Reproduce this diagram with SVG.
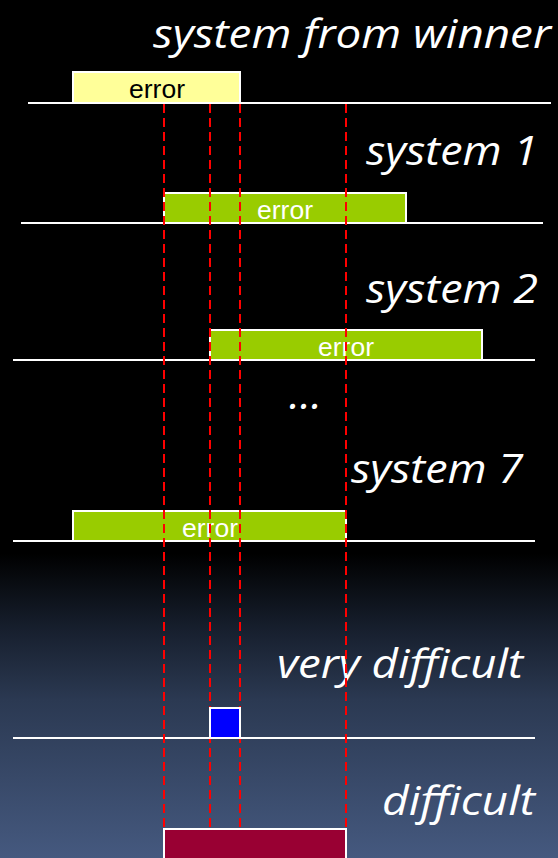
<svg xmlns="http://www.w3.org/2000/svg" width="558" height="858" viewBox="0 0 558 858">
  <style>
    .title { font-family: "Open Sans", "Liberation Sans", sans-serif; font-style: italic; font-size: 40px; fill: #ffffff; }
    .base { stroke: #ffffff; stroke-width: 2; fill: none; }
    .bar { stroke: #ffffff; stroke-width: 2; }
    .lbl { font-family: "Liberation Sans", Arial, sans-serif; font-size: 25px; text-anchor: middle; }
    .guide { stroke: #ff0000; stroke-width: 2; stroke-dasharray: 9 5; fill: none; }
  </style>
  <defs>
    <linearGradient id="bg" x1="0" y1="0" x2="0" y2="1">
      <stop offset="0" stop-color="#000000"/>
      <stop offset="0.645" stop-color="#000000"/>
      <stop offset="0.73" stop-color="#161e2c"/>
      <stop offset="0.816" stop-color="#2b3952"/>
      <stop offset="1" stop-color="#45597f"/>
    </linearGradient>
  </defs>
  <rect x="0" y="0" width="558" height="858" fill="url(#bg)"/>

  <g id="winner">
    <text class="title" x="153" y="48" textLength="398" lengthAdjust="spacingAndGlyphs">system from winner</text>
    <rect class="bar" x="73" y="72" width="167" height="31" fill="#ffff99"/>
    <line class="base" x1="28" y1="103" x2="551" y2="103"/>
    <text class="lbl" x="157" y="98" fill="#000000" textLength="56" lengthAdjust="spacingAndGlyphs">error</text>
  </g>

  <g id="system1">
    <text class="title" x="366" y="165" textLength="172" lengthAdjust="spacingAndGlyphs">system 1</text>
    <rect class="bar" x="164" y="193" width="242" height="30" fill="#99cc00"/>
    <line class="base" x1="21" y1="223" x2="543" y2="223"/>
    <text class="lbl" x="285" y="219" fill="#ffffff" textLength="56" lengthAdjust="spacingAndGlyphs">error</text>
  </g>

  <g id="system2">
    <text class="title" x="366" y="303" textLength="172" lengthAdjust="spacingAndGlyphs">system 2</text>
    <rect class="bar" x="210" y="330" width="272" height="30" fill="#99cc00"/>
    <line class="base" x1="13" y1="360" x2="535" y2="360"/>
    <text class="lbl" x="346" y="356" fill="#ffffff" textLength="56" lengthAdjust="spacingAndGlyphs">error</text>
  </g>

  <g id="ellipsis">
    <text class="title" x="289" y="409" textLength="33" lengthAdjust="spacingAndGlyphs">...</text>
  </g>

  <g id="system7">
    <text class="title" x="351" y="483" textLength="172" lengthAdjust="spacingAndGlyphs">system 7</text>
    <rect class="bar" x="73" y="511" width="273" height="30" fill="#99cc00"/>
    <line class="base" x1="13" y1="541" x2="535" y2="541"/>
    <text class="lbl" x="210" y="537" fill="#ffffff" textLength="56" lengthAdjust="spacingAndGlyphs">error</text>
  </g>

  <g id="very-difficult">
    <text class="title" x="277" y="678" textLength="246" lengthAdjust="spacingAndGlyphs">very difficult</text>
    <line class="base" x1="13" y1="738" x2="535" y2="738"/>
  </g>

  <g id="connectors">
    <line class="guide" x1="164" y1="104" x2="164" y2="829"/>
    <line class="guide" x1="210" y1="104" x2="210" y2="829"/>
    <line class="guide" x1="240" y1="104" x2="240" y2="829"/>
    <line class="guide" x1="346" y1="104" x2="346" y2="829"/>
  </g>

  <g id="very-difficult-box">
    <rect class="bar" x="210" y="708" width="30" height="30" fill="#0000ff"/>
  </g>

  <g id="difficult">
    <text class="title" x="382" y="815" textLength="153" lengthAdjust="spacingAndGlyphs">difficult</text>
    <rect class="bar" x="164" y="829" width="182" height="34" fill="#990033"/>
  </g>
</svg>
